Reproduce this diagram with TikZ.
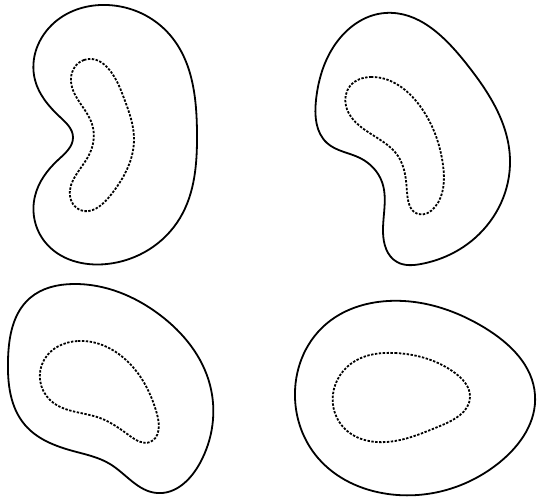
\documentclass[tikz,border=0pt]{standalone}
\usepackage{tikz}
\usetikzlibrary{hobby}

\begin{document}
\begin{tikzpicture}[x=1pt, y=-1pt,
      rim/.style={draw, line width=1.8pt, use Hobby shortcut, closed=true},
      core/.style={draw, line width=1.8pt, dash pattern=on 2.4pt off 1.5pt, use Hobby shortcut, closed=true}]
    \useasboundingbox (0,0) rectangle (537,502);
    % top left
    \draw[rim] (107,5) .. (170,35) .. (197,133) .. (180,218) .. (107,264) .. (45,242) .. (35,196)
      .. (58,160) .. (73,137) .. (60,117) .. (35,80) .. (55,22);
    \draw[core] (84,60) .. (71,78) .. (92,124) .. (89,155) .. (70,196) .. (80,210) .. (110,196)
      .. (134,140) .. (122,93);
    % top right
    \draw[rim] (385,13) .. (465,62) .. (510,160) .. (475,238) .. (421,264) .. (397,262) .. (383,232)
      .. (382,182) .. (360,158) .. (327,143) .. (316,100) .. (340,38);
    \draw[core] (371,77) .. (420,106) .. (443,165) .. (435,207) .. (418,214) .. (407,192)
      .. (398,156) .. (365,130) .. (346,106) .. (350,86);
    % bottom left
    \draw[rim] (73,284) .. (160,315) .. (210,385) .. (200,463) .. (157,493) .. (110,464)
      .. (73,451) .. (25,425) .. (8,360) .. (30,298);
    \draw[core] (78,341) .. (132,366) .. (157,414) .. (150,442) .. (130,436) .. (100,418)
      .. (50,400) .. (44,360);
    % bottom right
    \draw[rim] (388,301) .. (485,328) .. (535,395) .. (500,462) .. (388,494) .. (318,458)
      .. (295,398) .. (325,325);
    \draw[core] (395,353) .. (455,373) .. (470,397) .. (440,426) .. (395,441) .. (345,429)
      .. (333,394) .. (355,361);
  \end{tikzpicture}
\end{document}
